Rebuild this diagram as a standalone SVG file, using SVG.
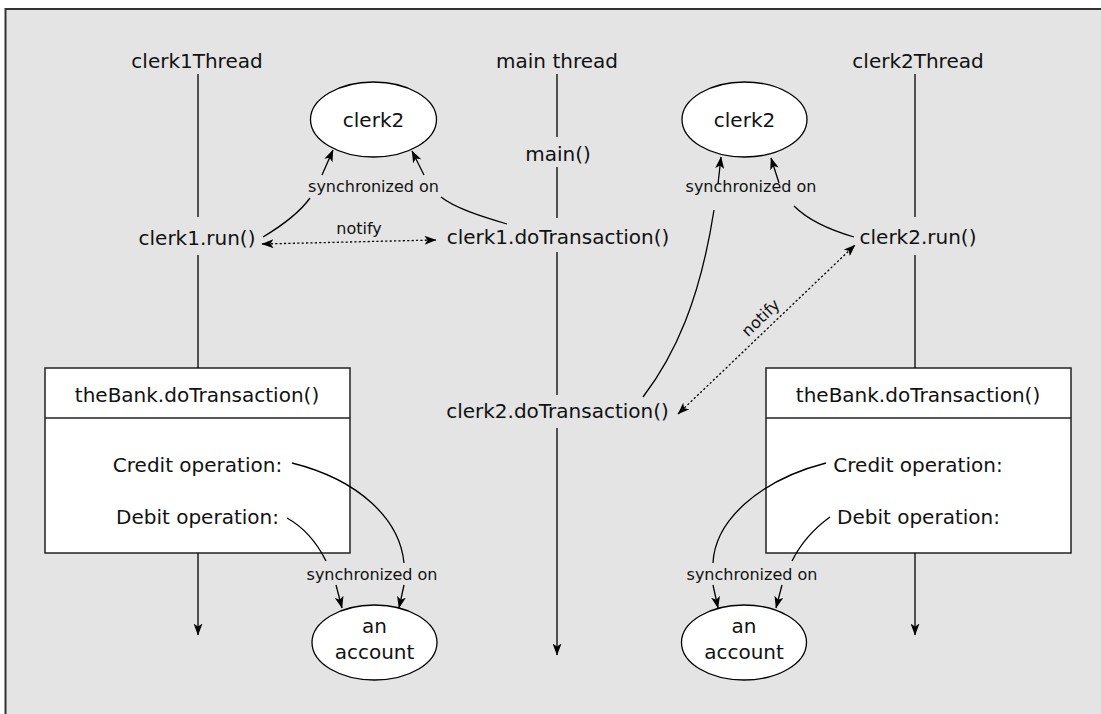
<svg xmlns="http://www.w3.org/2000/svg" width="1101" height="714" viewBox="0 0 1101 714">
<defs>
<marker id="arr" markerUnits="userSpaceOnUse" markerWidth="12" markerHeight="9" viewBox="0 0 12 9" refX="11.5" refY="4.5" orient="auto-start-reverse">
<path d="M0,0 L12,4.5 L0,9 L3,4.5 Z" fill="#000"/>
</marker>
<style>
.t{font-family:"DejaVu Sans","Liberation Sans",sans-serif;font-size:20px;fill:#111;text-anchor:middle}
.s{font-family:"DejaVu Sans","Liberation Sans",sans-serif;font-size:16px;fill:#111;text-anchor:middle}
.ln{stroke:#000;stroke-width:1.3;fill:none}
.ar{stroke:#000;stroke-width:1.3;fill:none;marker-end:url(#arr)}
.dot{stroke:#000;stroke-width:1.3;fill:none;stroke-dasharray:2.2 2.2;marker-start:url(#arr);marker-end:url(#arr)}
.box{fill:#fff;stroke:#222;stroke-width:1.5}
.ell{fill:#fff;stroke:#000;stroke-width:1.3}
</style>
</defs>
<rect x="0" y="0" width="1101" height="714" fill="#fff"/>
<rect x="5.5" y="9" width="1200" height="800" fill="#e4e4e4" stroke="#333" stroke-width="2"/>

<g id="clerk1Thread"><text class="t" x="197" y="68">clerk1Thread</text></g>
<g id="mainThread"><text class="t" x="557" y="68">main thread</text></g>
<g id="clerk2Thread"><text class="t" x="918" y="68">clerk2Thread</text></g>

<g id="clerk2Left"><ellipse class="ell" cx="373.5" cy="119.5" rx="63" ry="37.5"/><text class="t" x="373.5" y="127">clerk2</text></g>
<g id="clerk2Right"><ellipse class="ell" cx="744.5" cy="119.5" rx="62.5" ry="37.5"/><text class="t" x="744.5" y="127">clerk2</text></g>

<g id="main"><text class="t" x="558" y="161">main()</text></g>
<g id="clerk1Run"><text class="t" x="197" y="245">clerk1.run()</text></g>
<g id="clerk1DoTransaction"><text class="t" x="558" y="244">clerk1.doTransaction()</text></g>
<g id="clerk2Run"><text class="t" x="918" y="244">clerk2.run()</text></g>
<g id="clerk2DoTransaction"><text class="t" x="557.5" y="418">clerk2.doTransaction()</text></g>

<g id="bankLeft">
<rect class="box" x="45" y="368" width="305" height="185"/>
<line class="box" x1="45" y1="418" x2="350" y2="418"/>
<text class="t" x="197" y="402">theBank.doTransaction()</text>
<text class="t" x="197.5" y="472">Credit operation:</text>
<text class="t" x="197.5" y="524">Debit operation:</text>
</g>
<g id="bankRight">
<rect class="box" x="766" y="368" width="305" height="185"/>
<line class="box" x1="766" y1="418" x2="1071" y2="418"/>
<text class="t" x="918" y="402">theBank.doTransaction()</text>
<text class="t" x="918" y="472">Credit operation:</text>
<text class="t" x="918.5" y="524">Debit operation:</text>
</g>

<g id="accountLeft"><ellipse class="ell" cx="374.5" cy="642.5" rx="62.5" ry="37.5"/><text class="t" x="374.5" y="633">an</text><text class="t" x="374.5" y="659">account</text></g>
<g id="accountRight"><ellipse class="ell" cx="744" cy="642.5" rx="62.5" ry="37.5"/><text class="t" x="744" y="633">an</text><text class="t" x="744" y="659">account</text></g>

<g id="connectors">
<line class="ln" x1="198" y1="74" x2="198" y2="217"/>
<line class="ln" x1="198" y1="255" x2="198" y2="368"/>
<line class="ar" x1="198" y1="553" x2="198" y2="635"/>
<line class="ln" x1="557" y1="74" x2="557" y2="137"/>
<line class="ln" x1="557" y1="167" x2="557" y2="218"/>
<line class="ln" x1="557" y1="252" x2="557" y2="395"/>
<line class="ar" x1="557" y1="428" x2="557" y2="655"/>
<line class="ln" x1="915" y1="74" x2="915" y2="217"/>
<line class="ln" x1="915" y1="255" x2="915" y2="368"/>
<line class="ar" x1="915" y1="553" x2="915" y2="635"/>
<path class="ln" d="M263,237 C283,225 300,212 310,198"/>
<path class="ar" d="M322,175 L333,150"/>
<path class="ln" d="M507,224 C480,216 455,208 441,197"/>
<path class="ar" d="M424,175 L412,151"/>
<path class="ln" d="M643,397 C675,355 700,300 714,210"/>
<path class="ar" d="M718,184 L721,157"/>
<path class="ln" d="M854,237 C830,230 808,220 794,206"/>
<path class="ar" d="M779,183 L771,158"/>
<path class="ln" d="M287,518 C305,528 318,545 326,561"/>
<path class="ar" d="M336,585 L342,608"/>
<path class="ln" d="M292,463 C360,480 400,520 404,563"/>
<path class="ar" d="M404,585 L399,608"/>
<path class="ln" d="M826,463 C760,480 715,520 713,563"/>
<path class="ar" d="M713,585 L718,608"/>
<path class="ln" d="M830,517 C812,530 800,545 792,561"/>
<path class="ar" d="M782,585 L776,608"/>
<line class="dot" x1="262" y1="244" x2="436" y2="240"/>
<line class="dot" x1="678" y1="414" x2="855" y2="245"/>
<text class="s" x="373.5" y="192">synchronized on</text>
<text class="s" x="751" y="192">synchronized on</text>
<text class="s" x="372" y="580">synchronized on</text>
<text class="s" x="752" y="580">synchronized on</text>
<text class="s" x="359" y="234">notify</text>
<text class="s" transform="translate(761,318) rotate(-44)" x="0" y="5">notify</text>
</g>
</svg>
